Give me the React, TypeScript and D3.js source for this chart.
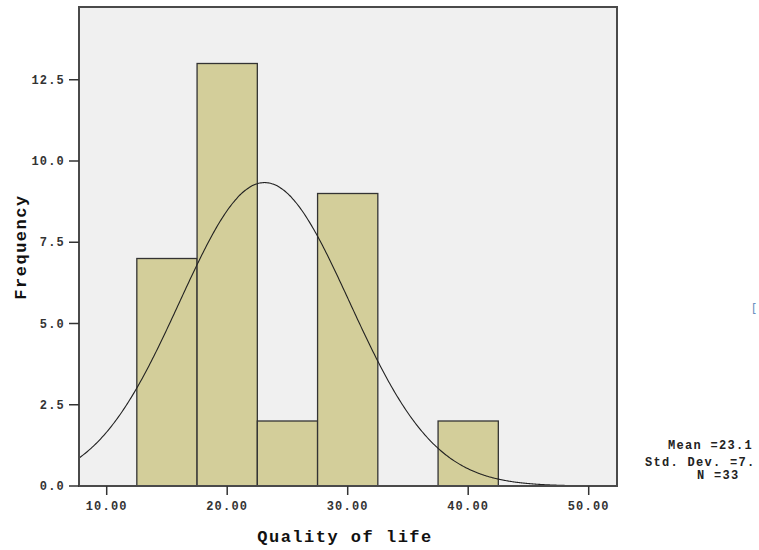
import { useEffect, useRef } from "react";
import * as d3 from "d3";

// histogram bins (lower edge, upper edge) and counts
const binStarts = [12.5, 17.5, 22.5, 27.5, 32.5, 37.5];
const binEnds = [17.5, 22.5, 27.5, 32.5, 37.5, 42.5];
const counts = [7, 13, 2, 9, 0, 2];

const xTicks = [10, 20, 30, 40, 50];
const yTicks = [0, 2.5, 5, 7.5, 10, 12.5];

// summary stats shown at the right
const meanValue = 23.1;
const stdDev = 7.05;
const nValue = 33;
const statLines = ["Mean =23.1", "Std. Dev. =7.", "N =33"];

const App = () => {
    const ref = useRef<SVGSVGElement | null>(null);

    useEffect(() => {
        const svg = d3.select(ref.current);
        svg.selectAll("*").remove();

        const margin = { top: 7, left: 79, right: 617, bottom: 486 };
        const font = "'Liberation Mono', 'DejaVu Sans Mono', monospace";

        const x = d3.scaleLinear().domain([10, 50]).range([106.7, 588.7]);
        const y = d3.scaleLinear().domain([0, 13]).range([486, 63.5]);

        // plot background
        svg.append("rect")
            .attr("x", margin.left)
            .attr("y", margin.top)
            .attr("width", margin.right - margin.left)
            .attr("height", margin.bottom - margin.top)
            .attr("fill", "#f0f0f0");

        const data = counts.map((c, i) => ({ x0: binStarts[i], x1: binEnds[i], c }));

        svg.selectAll(".bar")
            .data(data.filter(d => d.c > 0))
            .enter().append("rect")
            .attr("class", "bar")
            .attr("x", d => x(d.x0))
            .attr("y", d => y(d.c))
            .attr("width", d => x(d.x1) - x(d.x0))
            .attr("height", d => y(0) - y(d.c))
            .attr("fill", "#d3ce9a")
            .attr("stroke", "#333")
            .attr("stroke-width", 1.3);

        // normal curve
        const binWidth = 5;
        const xMin = x.invert(margin.left);
        const pts = d3.range(xMin, 48.01, 0.1).map(v => {
            const z = (v - meanValue) / stdDev;
            return [v, nValue * binWidth * Math.exp(-0.5 * z * z) / (stdDev * Math.sqrt(2 * Math.PI))];
        });
        const line = d3.line<number[]>()
            .x(d => x(d[0]))
            .y(d => y(d[1]))
            .curve(d3.curveBasis);
        svg.append("path")
            .attr("d", line(pts))
            .attr("fill", "none")
            .attr("stroke", "#222")
            .attr("stroke-width", 1.1);

        // frame
        svg.append("rect")
            .attr("x", margin.left)
            .attr("y", margin.top)
            .attr("width", margin.right - margin.left)
            .attr("height", margin.bottom - margin.top)
            .attr("fill", "none")
            .attr("stroke", "#4a4a4a")
            .attr("stroke-width", 2);

        // y axis ticks
        yTicks.forEach(t => {
            svg.append("line")
                .attr("x1", margin.left - 10).attr("x2", margin.left)
                .attr("y1", y(t)).attr("y2", y(t))
                .attr("stroke", "#333").attr("stroke-width", 1.5);
            svg.append("text")
                .attr("x", margin.left - 14)
                .attr("y", y(t) + 4)
                .attr("text-anchor", "end")
                .attr("font-family", font)
                .attr("font-weight", "bold")
                .attr("font-size", "12px")
                .attr("letter-spacing", "1.2px")
                .attr("fill", "#333")
                .text(t.toFixed(1));
        });

        // x axis ticks
        xTicks.forEach(t => {
            svg.append("line")
                .attr("x1", x(t)).attr("x2", x(t))
                .attr("y1", margin.bottom).attr("y2", margin.bottom + 9)
                .attr("stroke", "#333").attr("stroke-width", 1.5);
            svg.append("text")
                .attr("x", x(t))
                .attr("y", 510)
                .attr("text-anchor", "middle")
                .attr("font-family", font)
                .attr("font-weight", "bold")
                .attr("font-size", "12px")
                .attr("letter-spacing", "1.2px")
                .attr("fill", "#333")
                .text(t.toFixed(2));
        });

        // axis titles
        svg.append("text")
            .attr("x", 345)
            .attr("y", 542)
            .attr("text-anchor", "middle")
            .attr("font-family", font)
            .attr("font-weight", "bold")
            .attr("font-size", "17px")
            .attr("letter-spacing", "1.5px")
            .attr("fill", "#111")
            .text("Quality of life");

        svg.append("text")
            .attr("transform", "translate(26,247) rotate(-90)")
            .attr("text-anchor", "middle")
            .attr("font-family", font)
            .attr("font-weight", "bold")
            .attr("font-size", "17px")
            .attr("letter-spacing", "1.5px")
            .attr("fill", "#111")
            .text("Frequency");

        // stats text
        const statX = [668, 645, 697];
        const statY = [449, 466, 479];
        statLines.forEach((s, i) => {
            svg.append("text")
                .attr("x", statX[i])
                .attr("y", statY[i])
                .attr("font-family", font)
                .attr("font-weight", "bold")
                .attr("font-size", "12px")
                .attr("letter-spacing", "1.3px")
                .attr("fill", "#222")
                .text(s);
        });

        // small stray mark at the right
        svg.append("text")
            .attr("x", 752)
            .attr("y", 313)
            .attr("font-family", "'DejaVu Sans', sans-serif")
            .attr("font-size", "12px")
            .attr("fill", "#6a8fc0")
            .text("[");
    }, []);

    return (
        <svg
            ref={ref}
            width={759}
            height={550}
            style={{ position: "absolute", left: 0, top: 0, background: "#fff" }}
        />
    );
};

export default App;
